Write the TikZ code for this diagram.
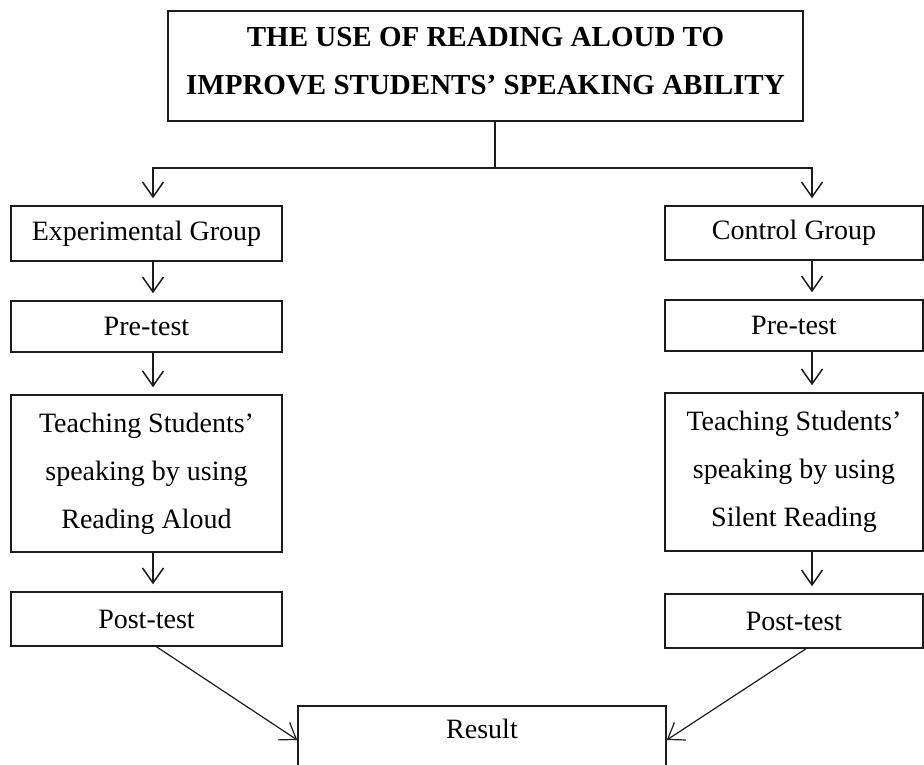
\documentclass[tikz,border=0pt]{standalone}
\usepackage{fontspec}
\setmainfont{Liberation Serif}
\usetikzlibrary{arrows.meta,positioning}
\definecolor{Ink}{HTML}{1C1C1C}

\begin{document}
\begin{tikzpicture}[x=1pt, y=-1pt, >={Straight Barb[length=15pt,width=21pt]},
  font=\fontsize{28}{48}\selectfont,
  stagebox/.style={draw=Ink, line width=1.5pt, text=black, align=center,
    minimum width=271pt, inner sep=0pt},
  flow/.style={->, draw=Ink, line width=1.5pt, shorten >=7pt}]
  \useasboundingbox (0,0) rectangle (924,765);

  % The title of the study.
  \node[stagebox, minimum width=635pt, minimum height=110pt,
    font=\fontsize{29}{48}\selectfont\bfseries] (title) at (485.5,66)
    {THE USE OF READING ALOUD TO\\IMPROVE STUDENTS’ SPEAKING ABILITY\\[-38pt]\mbox{}};

  % Experimental group, left column.
  \node[stagebox, minimum height=55pt] (expgroup) at (146.5,233.5) {Experimental Group};
  \node[stagebox, minimum height=51pt] (pretestA) at (146.5,326.5) {Pre-test};
  \node[stagebox, minimum height=157pt] (teachA) at (146.5,473.5)
    {Teaching Students’\\speaking by using\\Reading Aloud};
  \node[stagebox, minimum height=54pt] (posttestA) at (146.5,619) {Post-test};

  % Control group, right column.
  \node[stagebox, minimum width=258pt, minimum height=54pt] (ctrlgroup) at (794,233) {Control Group};
  \node[stagebox, minimum width=258pt, minimum height=51pt] (pretestB) at (794,325.5) {Pre-test};
  \node[stagebox, minimum width=258pt, minimum height=158pt] (teachB) at (794,472)
    {Teaching Students’\\speaking by using\\Silent Reading};
  \node[stagebox, minimum width=258pt, minimum height=54pt] (posttestB) at (794,621) {Post-test};

  % Where both groups meet.
  \node[stagebox, minimum width=368pt, anchor=north, text height=20pt, text depth=70pt,
    inner ysep=13pt] (result) at (482,705) {Result};

  % Split under the title.
  \coordinate (split) at (495,168);
  \coordinate (leftcol) at (153,0);
  \coordinate (rightcol) at (812,0);
  \draw[draw=Ink, line width=1.5pt] (title.south -| split) -- (split);
  \draw[flow] (split) -| (expgroup.north -| leftcol);
  \draw[flow] (split) -| (ctrlgroup.north -| rightcol);

  % Steps down each column.
  \draw[flow] (expgroup.south -| leftcol) -- (pretestA.north -| leftcol);
  \draw[flow] (pretestA.south -| leftcol) -- (teachA.north -| leftcol);
  \draw[flow] (teachA.south -| leftcol) -- (posttestA.north -| leftcol);
  \draw[flow] (ctrlgroup.south -| rightcol) -- (pretestB.north -| rightcol);
  \draw[flow] (pretestB.south -| rightcol) -- (teachB.north -| rightcol);
  \draw[flow] (teachB.south -| rightcol) -- (posttestB.north -| rightcol);

  % Both post-tests lead to the result.
  \draw[flow, shorten >=0pt, line width=1.2pt]
    ([xshift=10pt]posttestA.south) -- ([yshift=-35pt]result.north west);
  \draw[flow, shorten >=0pt, line width=1.2pt]
    ([xshift=12pt]posttestB.south) -- ([yshift=-35pt]result.north east);
\end{tikzpicture}
\end{document}
